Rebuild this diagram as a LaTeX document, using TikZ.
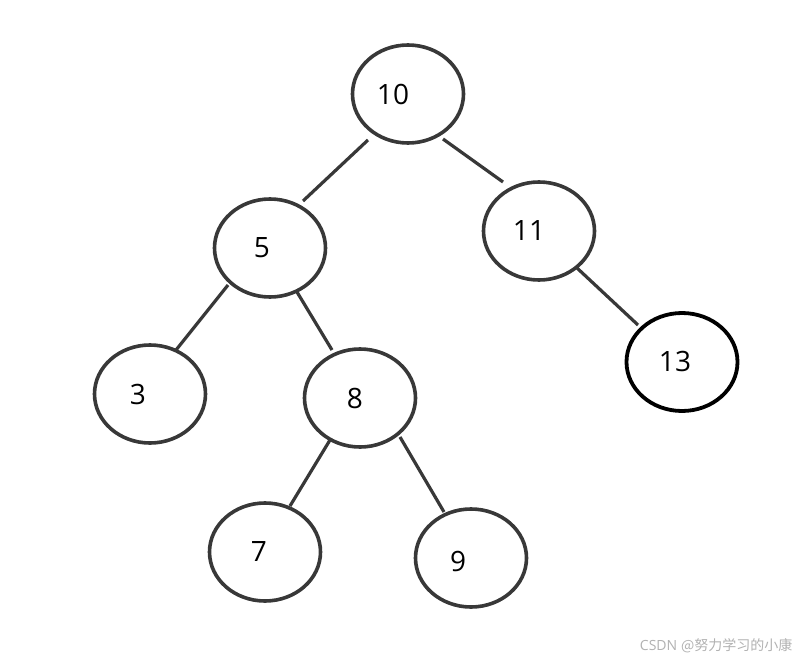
\documentclass[tikz,border=0pt]{standalone}
\usepackage{fontspec}
\setmainfont{Open Sans}
\newfontfamily\cjkfont{Noto Sans CJK SC}
\usetikzlibrary{shapes.geometric,calc}
\definecolor{ln}{HTML}{383838}
\tikzset{
  nd/.style={ellipse, draw=ln, line width=3.6pt, minimum width=111pt, minimum height=98pt, inner sep=0pt},
  ndk/.style={nd, draw=black, line width=3.8pt},
  lab/.style={font=\fontsize{28}{33}\selectfont, text=black},
  edge/.style={draw=ln, line width=3.2pt}
}
\begin{document}
\begin{tikzpicture}[x=1pt,y=-1pt]
\fill[white] (0,0) rectangle (806,661);
\useasboundingbox (0,0) rectangle (806,661);
\node[nd] (n10) at (408,94) {};
\node[nd] (n5) at (270,248) {};
\node[nd] (n11) at (539,231) {};
\node[nd] (n3) at (150,394) {};
\node[nd] (n8) at (360,398) {};
\node[ndk] (n13) at (682,362) {};
\node[nd] (n7) at (265,552) {};
\node[nd] (n9) at (471,558) {};
\node[lab] at ($(n10)+(-15,0)$) {10};
\node[lab] at ($(n5)+(-8,0)$) {5};
\node[lab] at ($(n11)+(-10,0)$) {11};
\node[lab] at ($(n3)+(-12,0)$) {3};
\node[lab] at ($(n8)+(-5,0)$) {8};
\node[lab] at ($(n13)+(-7,-1)$) {13};
\node[lab] at ($(n7)+(-6,0)$) {7};
\node[lab] at ($(n9)+(-13,3)$) {9};
\draw[edge] ($(n10)+(-40,46)$) -- ($(n5)+(33,-47)$);
\draw[edge] ($(n10)+(35,45)$) -- ($(n11)+(-36,-49)$);
\draw[edge] ($(n5)+(-42,37)$) -- ($(n3)+(26,-44)$);
\draw[edge] ($(n5)+(27,44)$) -- ($(n8)+(-28,-48)$);
\draw[edge] ($(n11)+(38,37)$) -- ($(n13)+(-44,-37)$);
\draw[edge] ($(n8)+(-30,42)$) -- ($(n7)+(25,-46)$);
\draw[edge] ($(n8)+(40,39)$) -- ($(n9)+(-27,-46)$);
\node[anchor=east, text=black!30, font=\fontsize{14}{16}\selectfont] at (796,646) {CSDN\hspace{4pt}{\cjkfont @努力学习的小康}};
\end{tikzpicture}
\end{document}
